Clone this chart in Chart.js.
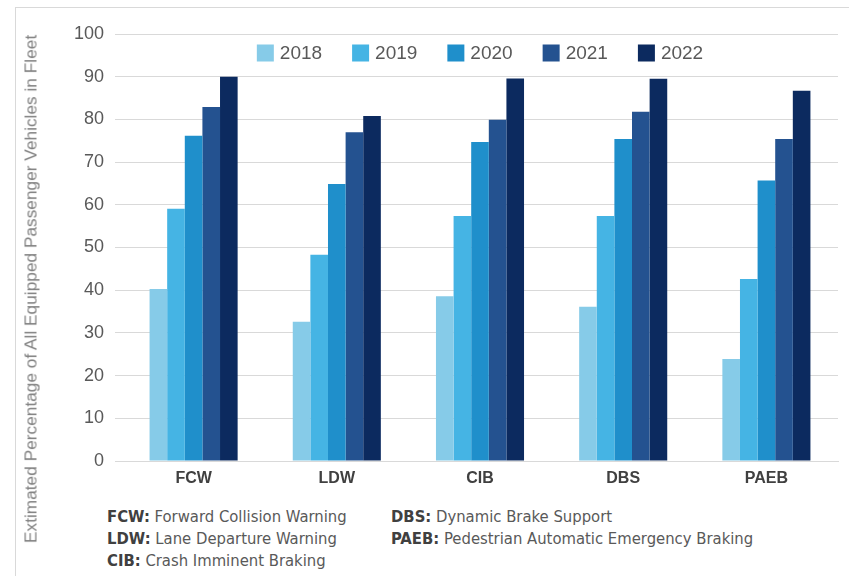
<!DOCTYPE html>
<html>
<head>
<meta charset="utf-8">
<script src="https://cdn.jsdelivr.net/npm/chart.js@4"></script>
<style>
  body { margin: 0; background: #fff; }
  #frame { position: absolute; left: 15px; top: 7px; width: 840px; height: 580px; border-left: 1px solid #d9d9d9; border-top: 1px solid #d9d9d9; }
  #wrap { position: absolute; left: 0; top: 0; width: 849px; height: 490px; }
  #ytitle { position: absolute; left: 31px; top: 289px; transform: translate(-50%, -50%) rotate(-90deg); white-space: nowrap;
    font-family: "Liberation Sans", Arial, sans-serif; font-size: 17.3px; color: #808080; }
  .note { position: absolute; font-family: "Liberation Sans Narrow", "DejaVu Sans Condensed", sans-serif; font-size: 16.5px; color: #595959; white-space: nowrap; }
  .note b { color: #404040; }
</style>
</head>
<body>
<div id="frame"></div>
<div id="wrap"><canvas id="chart-1"></canvas></div>
<div id="ytitle">Extimated Percentage of All Equipped Passenger Vehicles in Fleet</div>
<div class="note" style="left:107px; top:507px;"><b>FCW:</b> Forward Collision Warning</div>
<div class="note" style="left:107px; top:529px;"><b>LDW:</b> Lane Departure Warning</div>
<div class="note" style="left:107px; top:551px;"><b>CIB:</b> Crash Imminent Braking</div>
<div class="note" style="left:391px; top:507px;"><b>DBS:</b> Dynamic Brake Support</div>
<div class="note" style="left:391px; top:529px;"><b>PAEB:</b> Pedestrian Automatic Emergency Braking</div>
<script>
let categories = ['FCW', 'LDW', 'CIB', 'DBS', 'PAEB'];
let years = ['2018', '2019', '2020', '2021', '2022'];
let values2018 = [40.3, 32.6, 38.6, 36.1, 23.9];
let values2019 = [59.1, 48.3, 57.4, 57.4, 42.6];
let values2020 = [76.2, 64.9, 74.7, 75.4, 65.7];
let values2021 = [82.9, 77.0, 79.9, 81.8, 75.4];
let values2022 = [90.0, 80.8, 89.6, 89.5, 86.7];
let yTicks = [0, 10, 20, 30, 40, 50, 60, 70, 80, 90, 100];

let colors = ['#86cbe8', '#45b4e4', '#1f8fcb', '#245290', '#0c2a5f'];
let series = [values2018, values2019, values2020, values2021, values2022];

// legend drawn inside the plot, centred near the top
let innerLegend = {
    id: 'innerLegend',
    afterDraw(chart) {
        let ctx = chart.ctx;
        let area = chart.chartArea;
        let box = 17, gap = 6, spacing = 30;
        ctx.save();
        ctx.font = '19px "Liberation Sans"';
        let items = chart.data.datasets.map(ds => ({ text: ds.label, color: ds.backgroundColor, w: ctx.measureText(ds.label).width }));
        let total = items.reduce((s, it) => s + box + gap + it.w, 0) + spacing * (items.length - 1);
        let x = (area.left + area.right) / 2 - total / 2;
        let cy = area.top + 19;
        ctx.textBaseline = 'middle';
        items.forEach(it => {
            ctx.fillStyle = it.color;
            ctx.fillRect(x, cy - box / 2, box, box);
            ctx.fillStyle = '#595959';
            ctx.fillText(it.text, x + box + gap, cy + 1);
            x += box + gap + it.w + spacing;
        });
        ctx.restore();
    }
};

let chart_1 = document.getElementById('chart-1');

new Chart(chart_1, {
    type: 'bar',
    data: {
        labels: categories,
        datasets: series.map((vals, i) => ({
            label: years[i],
            data: vals,
            backgroundColor: colors[i],
            borderWidth: 0
        }))
    },
    options: {
        responsive: true,
        maintainAspectRatio: false,
        animation: false,
        layout: { padding: { top: 34, right: 11, left: 0, bottom: 0 } },
        datasets: { bar: { categoryPercentage: 0.615, barPercentage: 1 } },
        plugins: {
            tooltip: { enabled: false },
            legend: { display: false }
        },
        scales: {
            x: {
                grid: { display: false },
                border: { color: '#d9d9d9' },
                ticks: { color: '#404040', font: { family: 'Liberation Sans', size: 16, weight: 'bold' }, padding: 0 },
                afterFit: (scale) => { scale.height = 29; }
            },
            y: {
                min: 0,
                max: 100,
                afterBuildTicks: (scale) => { scale.ticks = yTicks.map(v => ({ value: v })); },
                grid: { color: '#d9d9d9', tickLength: 7, tickColor: '#d9d9d9' },
                border: { display: false },
                ticks: { color: '#595959', font: { family: 'Liberation Sans', size: 18 }, padding: 11 },
                afterFit: (scale) => { scale.width = 122; }
            }
        }
    },
    plugins: [innerLegend]
});
</script>
</body>
</html>
